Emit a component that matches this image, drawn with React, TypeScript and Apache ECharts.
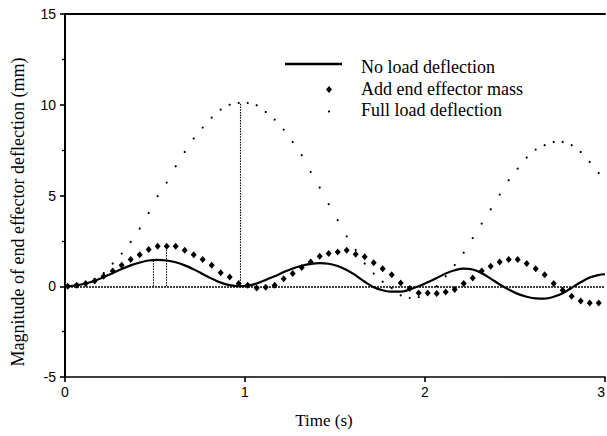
import React, { useEffect, useRef } from "react";
import * as echarts from "echarts";

// Sample times (s)
const times = [
  0.015, 0.065, 0.115, 0.165, 0.215, 0.265, 0.315, 0.365, 0.415, 0.465,
  0.515, 0.565, 0.615, 0.665, 0.715, 0.765, 0.815, 0.865, 0.915, 0.965,
  1.015, 1.065, 1.115, 1.165, 1.215, 1.265, 1.315, 1.365, 1.415, 1.465,
  1.515, 1.565, 1.615, 1.665, 1.715, 1.765, 1.815, 1.865, 1.915, 1.965,
  2.015, 2.065, 2.115, 2.165, 2.215, 2.265, 2.315, 2.365, 2.415, 2.465,
  2.515, 2.565, 2.615, 2.665, 2.715, 2.765, 2.815, 2.865, 2.915, 2.965,
];

// No load deflection (mm)
const noLoad = [
  0, 0.05, 0.15, 0.3, 0.5, 0.72, 0.95, 1.15, 1.3, 1.42,
  1.45, 1.42, 1.32, 1.15, 0.93, 0.68, 0.42, 0.2, 0.06, 0.0,
  0.03, 0.15, 0.35, 0.55, 0.78, 0.98, 1.13, 1.23, 1.27, 1.24,
  1.12, 0.9, 0.6, 0.25, -0.05, -0.22, -0.3, -0.3, -0.18, 0.0,
  0.22, 0.45, 0.7, 0.88, 0.97, 0.92, 0.72, 0.42, 0.1, -0.18,
  -0.42, -0.58, -0.67, -0.68, -0.58, -0.38, -0.08, 0.22, 0.48, 0.62,
];
const noLoadEnd = [3.0, 0.66];

// Add end effector mass (mm)
const addMass = [
  0, 0.06, 0.15, 0.29, 0.55, 0.84, 1.16, 1.47, 1.74, 2.02,
  2.2, 2.2, 2.2, 1.98, 1.74, 1.47, 1.16, 0.75, 0.51, 0.15,
  0.06, -0.1, -0.05, 0.05, 0.42, 0.7, 1.03, 1.34, 1.65, 1.8,
  1.89, 1.98, 1.76, 1.62, 1.3, 0.97, 0.64, 0.18, -0.13, -0.37,
  -0.37, -0.4, -0.31, -0.18, 0.15, 0.46, 0.84, 1.1, 1.34, 1.47,
  1.47, 1.25, 0.97, 0.64, 0.15, -0.22, -0.55, -0.81, -0.92, -0.92,
];

// Full load deflection (mm)
const fullLoad = [
  0, 0.05, 0.15, 0.4, 0.73, 1.25, 1.8, 2.44, 3.18, 4.04,
  4.96, 5.71, 6.61, 7.4, 8.14, 8.74, 9.29, 9.73, 10.0, 10.1,
  10.1, 9.97, 9.6, 9.18, 8.63, 7.95, 7.22, 6.3, 5.44, 4.52,
  3.64, 2.75, 2.0, 1.25, 0.7, 0.25, -0.1, -0.5, -0.64, -0.6,
  -0.45, 0.0, 0.55, 1.17, 1.85, 2.65, 3.45, 4.24, 5.05, 5.84,
  6.48, 7.09, 7.53, 7.77, 7.95, 7.95, 7.77, 7.4, 6.85, 6.24,
];

// Peak drop lines
const dropTimes = [0.49, 0.565, 0.975];
const dropPeaks = [1.45, 2.2, 10.1];

const seriesNames = ["No load deflection", "Add end effector mass", "Full load deflection"];

const INK = "#000";
const SERIF = "'Liberation Serif', 'Times New Roman', serif";
const SANS = "'Liberation Sans', Arial, sans-serif";

export default function App() {
  const ref = useRef<HTMLDivElement>(null);
  useEffect(() => {
    const chart = echarts.init(ref.current!, null, { renderer: "svg" });
    const pair = (vals: number[]) => times.map((t, i) => [t, vals[i]]);
    const option: any = {
      animation: false,
      backgroundColor: "#fff",
      grid: { left: 65, right: 2, top: 14, bottom: 59, containLabel: false, outerBoundsMode: "none" },
      xAxis: [
        {
          type: "value",
          min: 0,
          max: 3,
          interval: 1,
          axisLine: { show: true, onZero: false, lineStyle: { color: INK, width: 1.6 } },
          axisTick: { show: true, length: 5, lineStyle: { color: INK, width: 1.6 } },
          axisLabel: { fontFamily: SANS, fontSize: 14, color: INK, margin: 8, alignMaxLabel: "right" },
          splitLine: { show: false },
        },
        {
          type: "value",
          position: "top",
          min: 0,
          max: 3,
          interval: 1,
          axisLine: { show: true, onZero: false, lineStyle: { color: INK, width: 2 } },
          axisTick: { show: false },
          axisLabel: { show: false },
          splitLine: { show: false },
        },
      ],
      yAxis: {
        type: "value",
        min: -5,
        max: 15,
        interval: 5,
        axisLine: { show: true, onZero: false, lineStyle: { color: INK, width: 2 } },
        axisTick: { show: true, length: 5, lineStyle: { color: INK, width: 1.6 } },
        minorTick: { show: true, splitNumber: 2, length: 3, lineStyle: { color: INK, width: 1.3 } },
        axisLabel: { fontFamily: SANS, fontSize: 14, color: INK, margin: 9 },
        splitLine: { show: false },
      },
      series: [
        {
          name: seriesNames[0],
          type: "line",
          data: [...pair(noLoad), noLoadEnd],
          smooth: 0.4,
          showSymbol: false,
          lineStyle: { color: INK, width: 2.2 },
          z: 3,
          markLine: {
            silent: true,
            symbol: "none",
            label: { show: false },
            data: [
              {
                yAxis: 0,
                lineStyle: { type: [2, 1], color: INK, width: 1.6 },
              },
              ...dropTimes.map((t, i) => [
                { coord: [t, 0], lineStyle: { type: [1.5, 1.2], color: INK, width: 1.1 } },
                { coord: [t, dropPeaks[i]] },
              ]),
            ],
          },
        },
        {
          name: seriesNames[1],
          type: "scatter",
          data: pair(addMass),
          symbol: "diamond",
          symbolSize: [6, 7],
          itemStyle: { color: INK, opacity: 1 },
          z: 4,
        },
        {
          name: seriesNames[2],
          type: "scatter",
          data: pair(fullLoad),
          symbol: "circle",
          symbolSize: 2.2,
          itemStyle: { color: INK, opacity: 1 },
          z: 4,
        },
      ],
      graphic: [
        {
          type: "text",
          x: 18,
          y: 212,
          rotation: Math.PI / 2,
          style: {
            text: "Magnitude of end effector deflection (mm)",
            font: `18px ${SERIF}`,
            fill: INK,
            align: "center",
            verticalAlign: "middle",
          },
        },
        {
          type: "text",
          x: 324,
          y: 420,
          style: {
            text: "Time (s)",
            font: `17px ${SERIF}`,
            fill: INK,
            align: "center",
            verticalAlign: "middle",
          },
        },
        {
          type: "line",
          shape: { x1: 285, y1: 64, x2: 342, y2: 64 },
          style: { stroke: INK, lineWidth: 2.5 },
        },
        {
          type: "polygon",
          shape: { points: [[329, 86], [332, 89.5], [329, 93], [326, 89.5]] },
          style: { fill: INK },
        },
        {
          type: "circle",
          shape: { cx: 329, cy: 111.5, r: 1.1 },
          style: { fill: INK },
        },
        {
          type: "text",
          x: 361,
          y: 67,
          style: { text: seriesNames[0], font: `18px ${SERIF}`, fill: INK, verticalAlign: "middle" },
        },
        {
          type: "text",
          x: 361,
          y: 89,
          style: { text: seriesNames[1], font: `18px ${SERIF}`, fill: INK, verticalAlign: "middle" },
        },
        {
          type: "text",
          x: 361,
          y: 110,
          style: { text: seriesNames[2], font: `18px ${SERIF}`, fill: INK, verticalAlign: "middle" },
        },
      ],
    };
    chart.setOption(option);
    return () => chart.dispose();
  }, []);
  return (
    <div
      ref={ref}
      style={{ position: "fixed", left: 0, top: 0, width: 607, height: 436, background: "#fff" }}
    />
  );
}
